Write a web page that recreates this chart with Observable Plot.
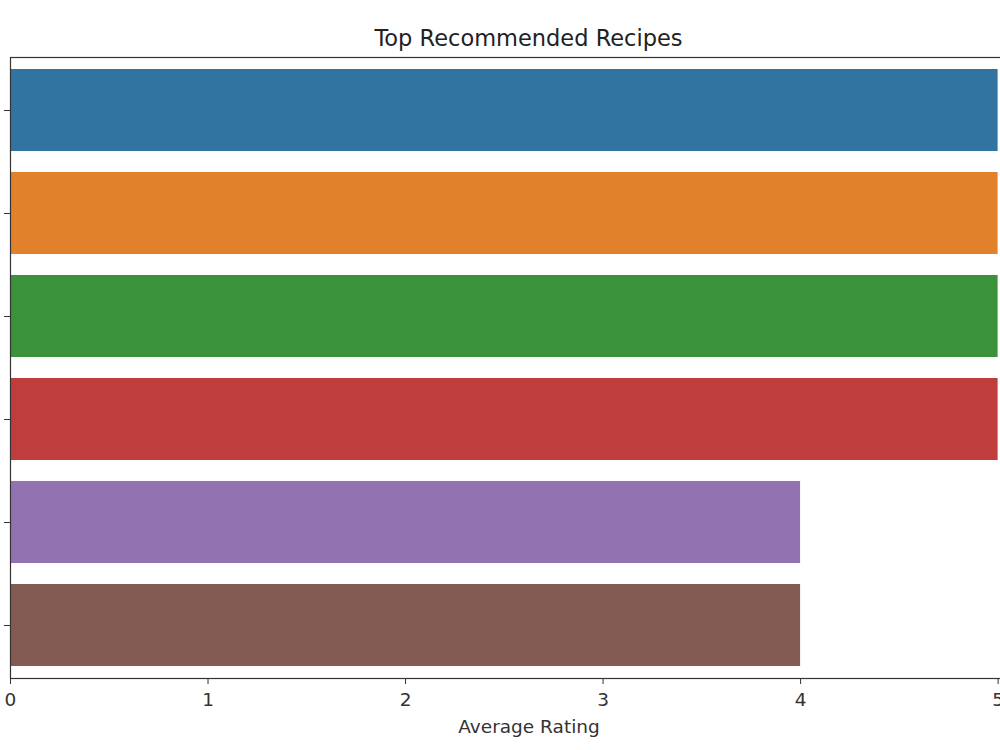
<!DOCTYPE html>
<html>
<head>
<meta charset="utf-8">
<script src="https://cdn.jsdelivr.net/npm/d3@7"></script>
<script src="https://cdn.jsdelivr.net/npm/@observablehq/plot@0.6"></script>
<style>
  html, body { margin: 0; padding: 0; background: #fff; overflow: hidden; width: 1000px; height: 750px; }
  #title { height: 50px; margin-left: 10px; width: 1037px; text-align: center; font-family: "DejaVu Sans", sans-serif; font-size: 22.5px; color: #222; line-height: 20px; padding-top: 28px; box-sizing: border-box; }
  #chart { width: 1000px; overflow: hidden; }
</style>
</head>
<body>
<div id="title">Top Recommended Recipes</div>
<div id="chart"></div>
<script>
const recipes = ["Recipe 1", "Recipe 2", "Recipe 3", "Recipe 4", "Recipe 5", "Recipe 6"];
const ratings = [5, 5, 5, 5, 4, 4];
const colors = ["#3274a1", "#e1812c", "#3a923a", "#c03d3e", "#9372b2", "#845b53"];
const xTicks = [0, 1, 2, 3, 4, 5];

const data = recipes.map((r, i) => ({recipe: r, rating: ratings[i]}));

const chart = Plot.plot({
  width: 1000,
  height: 700,
  marginLeft: 10,
  marginRight: -47,
  marginTop: 7,
  marginBottom: 72,
  style: {fontFamily: "DejaVu Sans, sans-serif", fontSize: "18.5px", color: "#333", overflow: "hidden", background: "#fff"},
  x: {domain: [0, 5.25]},
  y: {domain: recipes, paddingInner: 0.2, paddingOuter: 0.09},
  color: {domain: recipes, range: colors},
  marks: [
    Plot.barX(data, {x: "rating", y: "recipe", fill: "recipe"}),
    Plot.frame({stroke: "#333", strokeWidth: 1.2}),
    Plot.axisY({tickSize: 6, tickFormat: () => "", label: null, stroke: "#333"}),
    Plot.axisX({ticks: xTicks, tickSize: 6, tickPadding: 8, tickFormat: d3.format("d"), label: "Average Rating", labelAnchor: "center", labelArrow: "none", labelOffset: 54, stroke: "#333", fill: "#333"})
  ]
});
document.getElementById("chart").appendChild(chart);
</script>
</body>
</html>
